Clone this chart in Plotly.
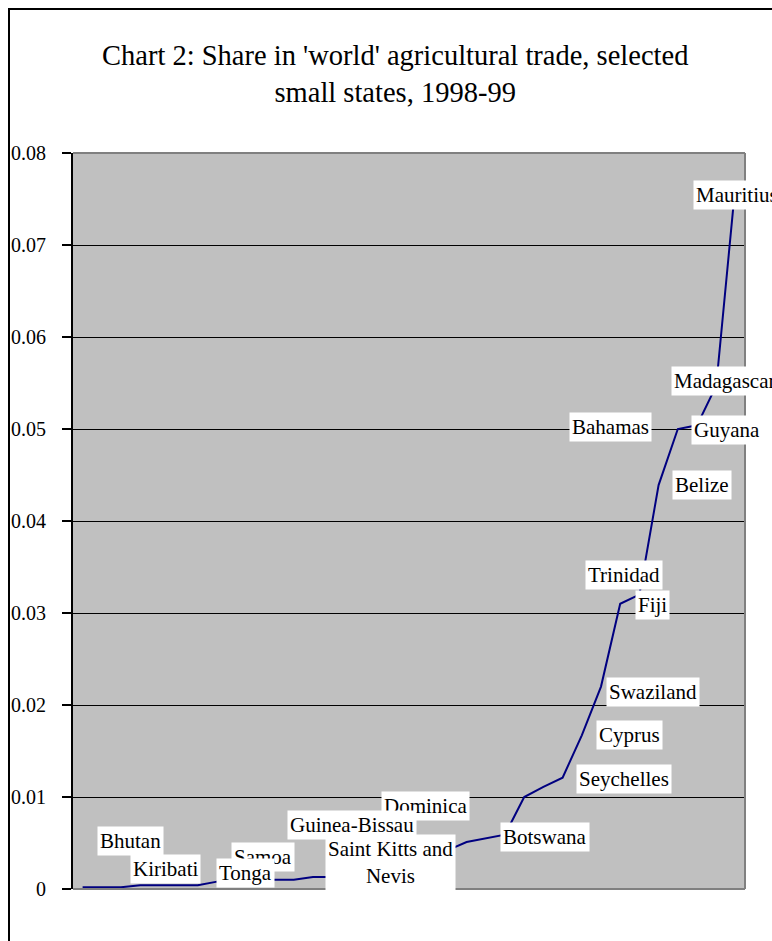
import plotly.graph_objects as go

# ---- data ----
point_index = list(range(35))
share = [0.0002, 0.0002, 0.0002, 0.0004, 0.0004, 0.0004, 0.0004, 0.0008, 0.0009, 0.0010,
         0.0010, 0.0010, 0.0013, 0.0013, 0.0015, 0.0018, 0.0022, 0.0027, 0.0034, 0.0042,
         0.0051, 0.0055, 0.0059, 0.0100, 0.0111, 0.0121, 0.0167, 0.0220, 0.0310, 0.0320,
         0.0439, 0.0500, 0.0504, 0.0547, 0.0765]
label_names = ["Bhutan", "Kiribati", "Samoa", "Tonga", "Dominica", "Guinea-Bissau",
               "Saint Kitts and<br>Nevis", "Botswana", "Seychelles", "Cyprus", "Swaziland",
               "Fiji", "Trinidad", "Belize", "Bahamas", "Guyana", "Madagascar", "Mauritius"]
label_points = [2, 4, 9, 8, 18, 14, 16, 22, 24, 26, 27, 28, 29, 30, 31, 32, 33, 34]
y_ticks = [0, 0.01, 0.02, 0.03, 0.04, 0.05, 0.06, 0.07, 0.08]
y_tick_text = ["0", "0.01", "0.02", "0.03", "0.04", "0.05", "0.06", "0.07", "0.08"]
title_text = "Chart 2: Share in 'world' agricultural trade, selected<br>small states, 1998-99"

# ---- label placement (pixel offsets from their points) ----
label_shift = {
    "Bhutan": (9, 46), "Kiribati": (6, 16), "Tonga": (9, 8), "Samoa": (8, 23),
    "Guinea-Bissau": (1, 50), "Saint Kitts and<br>Nevis": (1, 6), "Dominica": (-3, 52),
    "Botswana": (40, -2), "Seychelles": (81, 8), "Cyprus": (48, 0), "Swaziland": (52, -5),
    "Fiji": (32, -1), "Trinidad": (-15, 20), "Belize": (43, 0), "Bahamas": (-67, 2),
    "Guyana": (30, -5), "Madagascar": (8, 5), "Mauritius": (2, -10),
}

W, H = 772, 941
L, R, T, B = 73, 745, 153, 889
FONT = "Liberation Serif, Times New Roman, serif"

fig = go.Figure()
fig.add_trace(go.Scatter(x=point_index, y=share, mode="lines",
                         line=dict(color="#000080", width=2), hoverinfo="skip"))

annotations = []
for name, idx in zip(label_names, label_points):
    dx, dy = label_shift[name]
    annotations.append(dict(x=idx, y=share[idx], xref="x", yref="y", text=name,
                            showarrow=False, xshift=dx, yshift=dy,
                            font=dict(family=FONT, size=21, color="black"),
                            bgcolor="white", borderpad=2, align="center"))

annotations.append(dict(x=(395 - L) / (R - L), y=(B - 74) / (B - T), xref="paper", yref="paper",
                        text=title_text, showarrow=False, xanchor="center", yanchor="middle",
                        font=dict(family=FONT, size=28.5, color="black"), align="center"))

def px_x(p):
    return (p - L) / (R - L)

def px_y(p):
    return (B - p) / (B - T)

shapes = [
    # plot-area border (top, right, bottom) in grey
    dict(type="line", xref="paper", yref="paper", x0=0, x1=1, y0=1, y1=1,
         line=dict(color="#808080", width=2), layer="above"),
    dict(type="line", xref="paper", yref="paper", x0=1, x1=1, y0=0, y1=1,
         line=dict(color="#808080", width=2), layer="above"),
    dict(type="line", xref="paper", yref="paper", x0=0, x1=1, y0=0, y1=0,
         line=dict(color="#808080", width=2), layer="above"),
    # outer chart frame
    dict(type="line", xref="paper", yref="paper", x0=px_x(9), x1=px_x(9), y0=px_y(9), y1=px_y(945),
         line=dict(color="black", width=2)),
    dict(type="line", xref="paper", yref="paper", x0=px_x(8), x1=px_x(780), y0=px_y(9), y1=px_y(9),
         line=dict(color="black", width=2)),
]

fig.update_layout(
    width=W, height=H,
    margin=dict(l=L, r=W - R, t=T, b=H - B, pad=0),
    paper_bgcolor="white", plot_bgcolor="#C0C0C0",
    showlegend=False,
    annotations=annotations,
    shapes=shapes,
    xaxis=dict(range=[-0.5, 34.5], showticklabels=False, showgrid=False, zeroline=False,
               showline=False, ticks="", fixedrange=True),
    yaxis=dict(range=[0, 0.08], tickmode="array", tickvals=y_ticks, ticktext=y_tick_text,
               showgrid=True, gridcolor="black", gridwidth=1, zeroline=False,
               showline=True, linecolor="black", linewidth=2,
               ticks="outside", ticklen=9, tickwidth=2, tickcolor="black",
               ticklabelstandoff=12,
               tickfont=dict(family=FONT, size=20, color="black"), fixedrange=True),
)

fig.write_html("out.html")
